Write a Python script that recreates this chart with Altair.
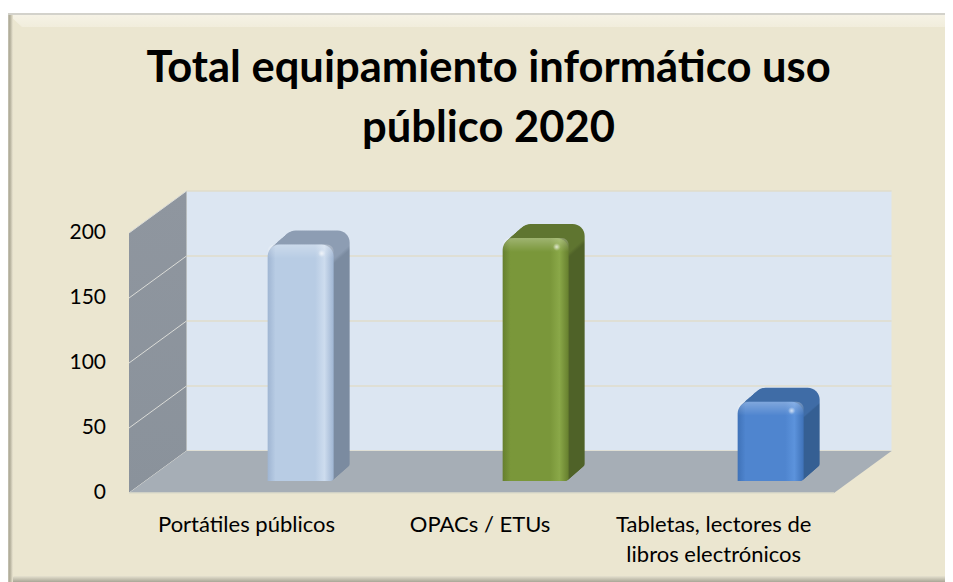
import altair as alt

TITLE_LINES = ["Total equipamiento informático uso", "público 2020"]
CATEGORIES = ["Portátiles públicos", "OPACs / ETUs", "Tabletas, lectores de\nlibros electrónicos"]
VALUES = [182, 187, 61]
TICKS = [0, 50, 100, 150, 200]
FRONT = ["#b8cce4", "#7a973a", "#4f85cf"]
FRONT_DARK = ["#9fb5d2", "#667f2e", "#3f72b8"]
FRONT_LIGHT = ["#cddcee", "#8aa848", "#5c93dc"]
SIDE = ["#7b8ba0", "#4f6228", "#355f93"]
TOP = ["#8d9db3", "#5f7530", "#3f6ca6"]

# scale geometry
PX_W, PX_H = 937, 569
LEFT, TOP_PX = 8, 13
RIGHT = LEFT + PX_W
X0_PX, BAND_PX = 129, 235
Y0_PX, UNIT_PX = 493, 1.3
def xd(px): return (px - X0_PX) / BAND_PX
def yd(px): return (Y0_PX - px) / UNIT_PX

x_scale = alt.Scale(domain=[xd(LEFT), xd(RIGHT)], range=[0, PX_W], nice=False, zero=False)
y_scale = alt.Scale(domain=[yd(TOP_PX + PX_H), yd(TOP_PX)], range=[PX_H, 0], nice=False, zero=False)
X = lambda f: alt.X(f, type="quantitative", scale=x_scale, axis=None)
Y = lambda f: alt.Y(f, type="quantitative", scale=y_scale, axis=None)
X2 = lambda f: alt.X2(f)
Y2 = lambda f: alt.Y2(f)

def grad(stops, horizontal=True):
    st = [alt.GradientStop(offset=o, color=c) for o, c in stops]
    if horizontal:
        return alt.LinearGradient(gradient="linear", stops=st, x1=0, x2=1, y1=0, y2=0)
    return alt.LinearGradient(gradient="linear", stops=st, x1=0, x2=0, y1=0, y2=1)

DX = 57.5 / BAND_PX
DY = 42 / UNIT_PX
SPAN = 3.0
layers = []

# back wall
layers.append(alt.Chart(alt.Data(values=[{"a": DX, "b": DX + SPAN, "c": DY, "d": 200 + DY}])).mark_rect(color="#dce6f2").encode(
    x=X("a:Q"), x2=X2("b:Q"), y=Y("c:Q"), y2=Y2("d:Q")))
# back wall grid
layers.append(alt.Chart(alt.Data(values=[{"a": DX, "b": DX + SPAN, "c": t + DY} for t in TICKS])).mark_rule(color="#e0dccb", strokeWidth=1.5).encode(
    x=X("a:Q"), x2=X2("b:Q"), y=Y("c:Q")))
# left wall
layers.append(alt.Chart(alt.Data(values=[{"a": 0, "c": 0, "d": 200}, {"a": DX, "c": DY, "d": 200 + DY}])).mark_area(
    color=grad([(0, "#8f969f"), (1, "#8a929b")], horizontal=False), line=False).encode(
    x=X("a:Q"), y=Y("c:Q"), y2=Y2("d:Q")))
# left wall grid
for t in TICKS:
    layers.append(alt.Chart(alt.Data(values=[{"a": 0, "c": t}, {"a": DX, "c": t + DY}])).mark_line(color="#dbdcd8", strokeWidth=1).encode(
        x=X("a:Q"), y=Y("c:Q")))
# floor
layers.append(alt.Chart(alt.Data(values=[{"c": 0, "a": 0, "b": SPAN}, {"c": DY, "a": DX, "b": DX + SPAN}])).mark_area(
    color="#a6aeb6", orient="horizontal").encode(y=Y("c:Q"), x=X("a:Q"), x2=X2("b:Q")))
layers.append(alt.Chart(alt.Data(values=[{"a": 0, "b": SPAN, "c": 0}])).mark_rule(color="#dedccb", strokeWidth=1.5).encode(
    x=X("a:Q"), x2=X2("b:Q"), y=Y("c:Q")))

# bars
BAR_L = 0.59
BAR_W = 66 / BAND_PX
BASE = 9.2
STEPS = 16
SX = 16 / BAND_PX / STEPS
SY = 14 / UNIT_PX / STEPS
for i, v in enumerate(VALUES):
    left = i + BAR_L
    h_px = v * UNIT_PX
    f = 15 / h_px
    for k in range(STEPS, 0, -1):
        row = {"a": left + k * SX, "b": left + BAR_W + k * SX, "c": BASE + k * SY, "d": BASE + v + k * SY}
        layers.append(alt.Chart(alt.Data(values=[row])).mark_rect(
            color=grad([(0, TOP[i]), (f, TOP[i]), (f + 0.02, SIDE[i]), (1, SIDE[i])], horizontal=False),
            cornerRadiusTopLeft=12, cornerRadiusTopRight=12,
            cornerRadiusBottomRight=3).encode(x=X("a:Q"), x2=X2("b:Q"), y=Y("c:Q"), y2=Y2("d:Q")))
    row = {"a": left, "b": left + BAR_W, "c": BASE, "d": BASE + v}
    layers.append(alt.Chart(alt.Data(values=[row])).mark_rect(
        color=grad([(0, FRONT_DARK[i]), (0.12, FRONT[i]), (0.72, FRONT[i]), (0.86, FRONT_LIGHT[i]), (1, FRONT_DARK[i])]),
        cornerRadiusTopLeft=12, cornerRadiusTopRight=12, cornerRadiusBottomRight=3).encode(
        x=X("a:Q"), x2=X2("b:Q"), y=Y("c:Q"), y2=Y2("d:Q")))
    cap = 14 / UNIT_PX
    row2 = {"a": left, "b": left + BAR_W, "c": BASE + v - cap, "d": BASE + v}
    layers.append(alt.Chart(alt.Data(values=[row2])).mark_rect(
        color=grad([(0, "rgba(255,255,255,0.28)"), (1, "rgba(255,255,255,0)")], horizontal=False),
        cornerRadiusTopLeft=12, cornerRadiusTopRight=12).encode(
        x=X("a:Q"), x2=X2("b:Q"), y=Y("c:Q"), y2=Y2("d:Q")))
    # specular highlight near the front top-right corner
    row3 = {"a": left + BAR_W - 12 / BAND_PX, "c": BASE + v - 9 / UNIT_PX}
    layers.append(alt.Chart(alt.Data(values=[row3])).mark_circle(
        size=55, opacity=1,
        color=alt.RadialGradient(gradient="radial", stops=[
            alt.GradientStop(offset=0, color="rgba(255,255,255,0.75)"),
            alt.GradientStop(offset=1, color="rgba(255,255,255,0)")])).encode(x=X("a:Q"), y=Y("c:Q")))

# y tick labels
layers.append(alt.Chart(alt.Data(values=[{"a": xd(106), "c": t, "t": str(t)} for t in TICKS])).mark_text(
    font="Lato", fontSize=21, align="right", baseline="middle", color="#000000").encode(
    x=X("a:Q"), y=Y("c:Q"), text=alt.Text("t:N")))
# category labels
layers.append(alt.Chart(alt.Data(values=[{"a": i + 0.5 - 0.006 * i, "c": yd(515), "t": c} for i, c in enumerate(CATEGORIES)])).mark_text(
    font="Lato", fontSize=22, align="center", baseline="top", color="#000000", lineBreak="\n", lineHeight=30).encode(
    x=X("a:Q"), y=Y("c:Q"), text=alt.Text("t:N")))

# frame bevel
layers.append(alt.Chart(alt.Data(values=[{"a": xd(8), "c": yd(14), "d": yd(14)}, {"a": xd(22), "c": yd(27), "d": yd(14)}, {"a": xd(RIGHT), "c": yd(27), "d": yd(14)}])).mark_area(
    color=grad([(0, "#f6f3e6"), (1, "#f1eddc")], horizontal=False)).encode(x=X("a:Q"), y=Y("c:Q"), y2=Y2("d:Q")))
layers.append(alt.Chart(alt.Data(values=[{"a": xd(8), "c": yd(582), "d": yd(582)}, {"a": xd(14), "c": yd(582), "d": yd(576)}, {"a": xd(RIGHT), "c": yd(582), "d": yd(576)}])).mark_area(
    color=grad([(0, "#e6e2cf"), (1, "#a9a696")], horizontal=False)).encode(x=X("a:Q"), y=Y("c:Q"), y2=Y2("d:Q")))
layers.append(alt.Chart(alt.Data(values=[{"a": xd(8), "b": xd(13), "c": yd(582), "d": yd(13)}])).mark_rect(
    color=grad([(0, "#c9c6b8"), (0.35, "#aeaa96"), (1, "#ebe6d2")])).encode(
    x=X("a:Q"), x2=X2("b:Q"), y=Y("c:Q"), y2=Y2("d:Q")))
layers.append(alt.Chart(alt.Data(values=[{"a": xd(8), "b": xd(RIGHT), "c": yd(13), "d": yd(15)}])).mark_rect(
    color="#d3d2cb").encode(x=X("a:Q"), x2=X2("b:Q"), y=Y("c:Q"), y2=Y2("d:Q")))

chart = alt.layer(*layers).properties(
    width=PX_W, height=PX_H,
    autosize=alt.AutoSizeParams(type="none"),
    padding={"left": 0, "top": 5, "right": 0, "bottom": 0},
    background="#ffffff",
    title=alt.TitleParams(text=TITLE_LINES, font="Lato", fontSize=43.5, fontWeight="bold", color="#000000",
                          anchor="middle", frame="group", orient="top", baseline="top", offset=-138, dx=12, lineHeight=60),
).configure_view(fill="#ebe6d0", stroke=None)

chart.save("out.html", embed_options={"renderer": "svg", "actions": False})
